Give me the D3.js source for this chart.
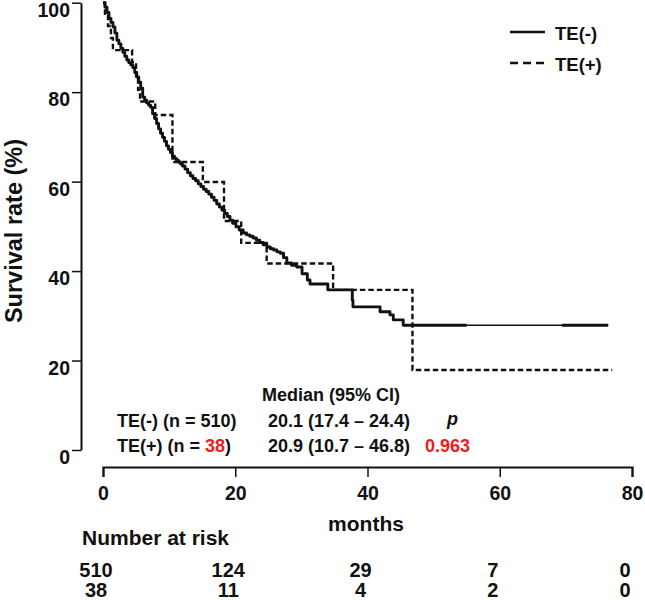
<!DOCTYPE html>
<html>
<head>
<meta charset="utf-8">
<script src="https://cdn.jsdelivr.net/npm/d3@7"></script>
<style>
  html, body { margin: 0; padding: 0; background: #fff; }
  svg { display: block; }
  text { font-family: "Liberation Sans", Arial, sans-serif; font-weight: bold; }
</style>
</head>
<body>
<svg id="chart" width="645" height="600"></svg>
<script>
// ---------- DATA ----------
// TE(-) Kaplan–Meier curve (months, survival %)
const teNegTimes = [0, 0.3, 0.6, 0.9, 1.2, 1.5, 1.8, 2.1, 2.4, 2.7, 3.0, 3.3, 3.6, 3.9, 4.2, 4.5, 4.8, 5.1, 5.4, 5.7, 6.0, 6.3, 6.6, 6.9, 7.2, 7.5, 7.8, 8.1, 8.4, 8.7, 9.0, 9.3, 9.6, 9.9, 10.2, 10.5, 10.8, 11.1, 11.4, 11.7, 12.0, 12.4, 12.8, 13.2, 13.6, 14.0, 14.4, 14.8, 15.2, 15.6, 16.0, 16.4, 16.8, 17.2, 17.6, 18.0, 18.4, 18.8, 19.2, 19.6, 20.1, 20.6, 21.2, 21.7, 22.2, 22.7, 23.2, 23.7, 24.2, 24.8, 25.3, 25.8, 26.3, 26.8, 27.3, 27.8, 28.5, 29.3, 30.1, 30.9, 31.3, 34.0, 37.7, 37.8, 41.9, 43.4, 43.9, 45.4, 76.4];
const teNegSurv  = [100, 99.0, 97.8, 96.5, 95.6, 94.6, 93.2, 91.6, 90.8, 89.8, 88.9, 88.0, 87.2, 86.6, 86.1, 85.5, 84.4, 83.4, 82.2, 80.9, 78.9, 78.2, 77.6, 77.1, 76.6, 75.2, 74.1, 73.0, 71.8, 70.8, 69.9, 69.0, 68.0, 67.2, 66.5, 65.7, 65.2, 64.8, 64.4, 64.0, 63.5, 62.8, 62.0, 61.3, 60.7, 60.2, 59.5, 58.9, 58.3, 57.8, 57.2, 56.5, 55.8, 55.0, 54.3, 53.6, 52.9, 52.2, 51.4, 50.7, 49.9, 49.2, 48.5, 48.1, 47.8, 47.4, 46.9, 46.4, 45.9, 45.4, 45.0, 44.7, 44.3, 44.0, 43.0, 41.8, 41.3, 40.9, 39.4, 38.0, 37.1, 35.8, 33.5, 32.0, 30.9, 30.2, 29.1, 27.9, 27.9];
// TE(+) Kaplan–Meier curve
const tePosTimes = [0, 0.3, 0.75, 1.2, 1.5, 4.4, 5.0, 5.3, 5.6, 7.9, 10.5, 15.1, 18.3, 20.9, 24.75, 34.8, 46.8, 77.0];
const tePosSurv  = [100, 97.5, 94.8, 92.1, 89.4, 86.7, 83.2, 80.5, 77.9, 74.9, 64.4, 59.9, 51.2, 46.3, 41.7, 35.8, 17.9, 17.9];
// stretch of the TE(-) plateau drawn with a thinner stroke in the original
const teNegThinSpan = [55.0, 69.4];

const xTicks = [0, 20, 40, 60, 80];
const yTicks = [0, 20, 40, 60, 80, 100];

const riskTimes = [0, 20, 40, 60, 80];
const riskTeNeg = [510, 124, 29, 7, 0];
const riskTePos = [38, 11, 4, 2, 0];

const legendLabels = ["TE(-)", "TE(+)"];
const nTeNeg = 510, nTePos = 38;
const medianTeNeg = "20.1 (17.4 \u2013 24.4)";
const medianTePos = "20.9 (10.7 \u2013 46.8)";
const pValue = "0.963";

// ---------- LAYOUT ----------
const RED = "#ee1c1c";
const INK = "#111";
const svg = d3.select("#chart");
const x = d3.scaleLinear().domain([0, 80]).range([103, 632]);
const y = d3.scaleLinear().domain([0, 100]).range([450, 2.7]);

function txt(xp, yp, size, s) {
  return svg.append("text").attr("x", xp).attr("y", yp).attr("font-size", size)
    .style("fill", INK).text(s);
}

// ---------- Y AXIS ----------
const yAxisG = svg.append("g").attr("transform", "translate(81,0)")
  .call(d3.axisLeft(y).tickValues(yTicks).tickSize(9).tickSizeOuter(0).tickPadding(2));
yAxisG.select(".domain").attr("stroke", INK).attr("stroke-width", 2);
yAxisG.selectAll(".tick line").attr("stroke", INK).attr("stroke-width", 1.5);
yAxisG.selectAll(".tick text").attr("font-size", 19.5).attr("dy", 13.5)
  .attr("font-family", "Liberation Sans, Arial, sans-serif").attr("font-weight", "bold").style("fill", INK);

// ---------- X AXIS ----------
const xAxisG = svg.append("g").attr("transform", "translate(0,467)")
  .call(d3.axisBottom(x).tickValues(xTicks).tickSize(10).tickPadding(9));
xAxisG.select(".domain").attr("stroke", INK).attr("stroke-width", 2.2);
xAxisG.selectAll(".tick line").attr("stroke", INK).attr("stroke-width", 1.5);
xAxisG.selectAll(".tick text").attr("font-size", 19.5)
  .attr("font-family", "Liberation Sans, Arial, sans-serif").attr("font-weight", "bold").style("fill", INK);

// axis titles
svg.append("text").attr("transform", "translate(22,231) rotate(-90)")
  .attr("text-anchor", "middle").attr("font-size", 23.5).style("fill", INK).text("Survival rate (%)");
txt(366, 531, 21, "months").attr("text-anchor", "middle");

// ---------- CURVES ----------
const line = d3.line().curve(d3.curveStepAfter).x(d => x(d[0])).y(d => y(d[1]));
const negData = teNegTimes.map((t, i) => [t, teNegSurv[i]]);
const posData = tePosTimes.map((t, i) => [t, tePosSurv[i]]);

const defs = svg.append("defs");
const clip = defs.append("clipPath").attr("id", "thickClip");
clip.append("rect").attr("x", 0).attr("y", 0).attr("width", x(teNegThinSpan[0])).attr("height", 600);
clip.append("rect").attr("x", x(teNegThinSpan[1])).attr("y", 0).attr("width", 645 - x(teNegThinSpan[1])).attr("height", 600);

svg.append("path").datum(negData).attr("d", line)
  .attr("fill", "none").attr("stroke", INK).attr("stroke-width", 1.4);
svg.append("path").datum(negData).attr("d", line).attr("clip-path", "url(#thickClip)")
  .attr("fill", "none").attr("stroke", INK).attr("stroke-width", 2.9).attr("stroke-linejoin", "round");

svg.append("path").datum(posData).attr("d", line)
  .attr("fill", "none").attr("stroke", INK).attr("stroke-width", 2.4)
  .attr("stroke-dasharray", "5.5,3");

// ---------- LEGEND ----------
[0, 1].forEach(i => {
  const ly = 32 + i * 31;
  svg.append("line").attr("x1", 510).attr("x2", 545).attr("y1", ly).attr("y2", ly)
    .attr("stroke", INK).attr("stroke-width", 2.6)
    .attr("stroke-dasharray", i === 1 ? "8,5" : null);
  txt(555, ly + 8, 18.5, legendLabels[i]);
});

// ---------- ANNOTATION ----------
txt(262, 401, 18, "Median (95% CI)");
txt(117, 427, 18, `TE(-) (n = ${nTeNeg})`);
const t2 = svg.append("text").attr("x", 117).attr("y", 452).attr("font-size", 18).style("fill", INK);
t2.append("tspan").text("TE(+) (n = ");
t2.append("tspan").style("fill", RED).text(nTePos);
t2.append("tspan").text(")");
txt(268, 427, 18, medianTeNeg);
txt(268, 452, 18, medianTePos);
txt(447, 425, 18, "p").attr("font-style", "italic");
txt(425, 452, 18, pValue).style("fill", RED);

// ---------- NUMBER AT RISK ----------
txt(82, 545, 21, "Number at risk");
riskTimes.forEach((t, i) => {
  txt(x(t) - 7, 577, 20, riskTeNeg[i]).attr("text-anchor", "middle");
  txt(x(t) - 7, 597, 20, riskTePos[i]).attr("text-anchor", "middle");
});
</script>
</body>
</html>
